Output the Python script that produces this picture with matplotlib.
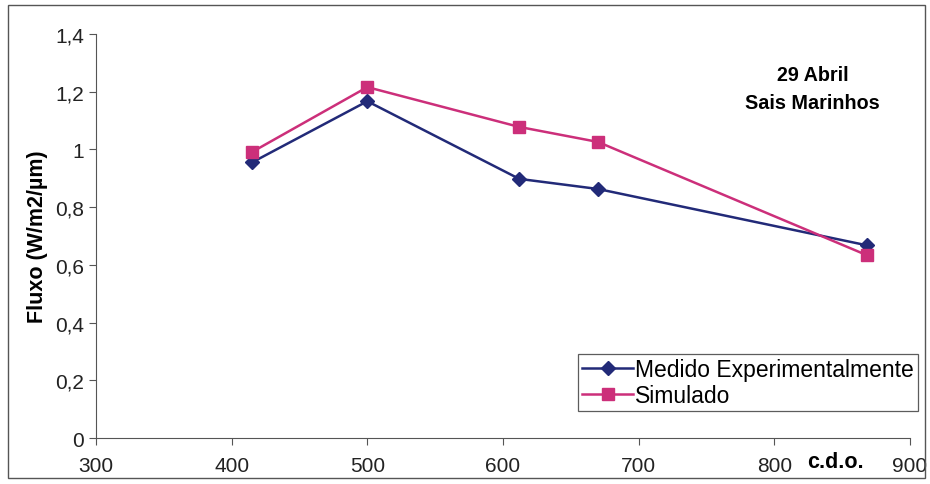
import matplotlib
matplotlib.use("Agg")
import matplotlib.pyplot as plt
from matplotlib.patches import Rectangle
from matplotlib.ticker import FuncFormatter

# dados
cdo = [415, 500, 612, 670, 868]
medido = [0.955, 1.167, 0.898, 0.863, 0.668]
simulado = [0.991, 1.216, 1.078, 1.026, 0.634]

plt.rcParams['font.family'] = ['Liberation Sans', 'DejaVu Sans']

fig = plt.figure(figsize=(9.3, 4.85), dpi=100)
ax = fig.add_axes([0.1032, 0.0948, 0.8753, 0.833])

# moldura externa
fig.patches.append(Rectangle((0.009, 0.012), 0.986, 0.975, transform=fig.transFigure,
                             fill=False, edgecolor='#555555', linewidth=1.0))

ax.plot(cdo, medido, color='#222a78', marker='D', markersize=7.5, linewidth=1.8,
        label='Medido Experimentalmente')
ax.plot(cdo, simulado, color='#cc2f7a', marker='s', markersize=8.5, linewidth=1.8,
        label='Simulado')

ax.set_xlim(300, 900)
ax.set_ylim(0, 1.4)
ax.set_xticks(range(300, 901, 100))
ax.set_yticks([0, 0.2, 0.4, 0.6, 0.8, 1.0, 1.2, 1.4])
ax.yaxis.set_major_formatter(FuncFormatter(lambda v, p: ('%g' % round(v, 1)).replace('.', ',')))

for s in ['top', 'right']:
    ax.spines[s].set_visible(False)
for s in ['left', 'bottom']:
    ax.spines[s].set_color('#555555')
ax.tick_params(direction='out', length=5, colors='#555555', labelcolor='#222222',
               labelsize=15)
ax.tick_params(axis='x', pad=8)

ax.set_ylabel('Fluxo (W/m2/µm)', fontsize=15.5, fontweight='bold', labelpad=5)
ax.text(845, -0.083, 'c.d.o.', fontsize=15.5, fontweight='bold', ha='center', va='center')
ax.text(0.88, 0.865, '29 Abril\nSais Marinhos', transform=ax.transAxes,
        fontsize=14.2, fontweight='bold', ha='center', va='center', linespacing=1.55)

leg = ax.legend(loc='lower right', bbox_to_anchor=(1.016, 0.055), fontsize=16.5,
                frameon=True, fancybox=False, borderpad=0.2, handlelength=2.2,
                handletextpad=0.1, labelspacing=0.1, borderaxespad=0.2)
leg.get_frame().set_edgecolor('#333333')
leg.get_frame().set_linewidth(0.9)

fig.savefig('out.png', dpi=100)
